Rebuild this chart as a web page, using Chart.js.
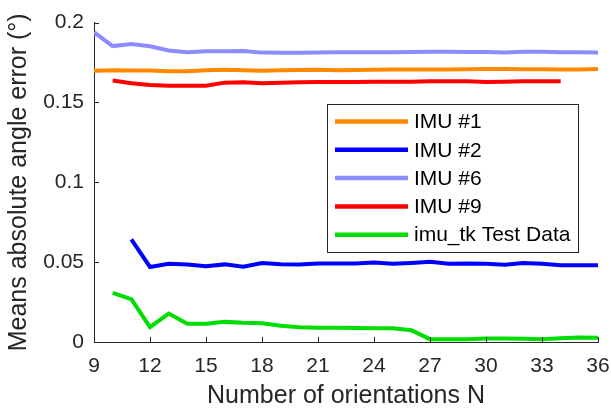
<!DOCTYPE html>
<html>
<head>
<meta charset="utf-8">
<script src="https://cdn.jsdelivr.net/npm/chart.js@4/dist/chart.umd.min.js"></script>
<style>
  html, body { margin: 0; padding: 0; background: #fff; }
  #wrap { width: 611px; height: 417px; }
</style>
</head>
<body>
<div id="wrap"><canvas id="c" width="611" height="417"></canvas></div>
<script>
// Number of orientations N
const nAll   = [9, 10, 11, 12, 13, 14, 15, 16, 17, 18, 19, 20, 21, 22, 23, 24, 25, 26, 27, 28, 29, 30, 31, 32, 33, 34, 35, 36];

// mean absolute angle error (deg), null where no value
const imu1 = [0.1698, 0.1702, 0.1700, 0.1700, 0.1695, 0.1696, 0.1701, 0.1704, 0.1702, 0.1698, 0.1702, 0.1703, 0.1704, 0.1701, 0.1703, 0.1704, 0.1706, 0.1707, 0.1706, 0.1707, 0.1708, 0.1709, 0.1710, 0.1708, 0.1708, 0.1707, 0.1707, 0.1710];
const imu2 = [null, null, 0.0642, 0.0470, 0.0490, 0.0486, 0.0474, 0.0486, 0.0472, 0.0494, 0.0487, 0.0485, 0.0492, 0.0492, 0.0492, 0.0498, 0.0490, 0.0495, 0.0502, 0.0490, 0.0492, 0.0490, 0.0484, 0.0494, 0.0490, 0.0481, 0.0480, 0.0481];
const imu6 = [0.1940, 0.1853, 0.1866, 0.1852, 0.1825, 0.1815, 0.1820, 0.1820, 0.1822, 0.1812, 0.1811, 0.1811, 0.1813, 0.1815, 0.1815, 0.1815, 0.1815, 0.1816, 0.1818, 0.1818, 0.1816, 0.1816, 0.1813, 0.1817, 0.1818, 0.1815, 0.1814, 0.1813];
const imu9 = [null, 0.1638, 0.1620, 0.1610, 0.1604, 0.1605, 0.1605, 0.1624, 0.1627, 0.1620, 0.1624, 0.1626, 0.1628, 0.1628, 0.1628, 0.1629, 0.1630, 0.1630, 0.1632, 0.1632, 0.1632, 0.1628, 0.1630, 0.1633, 0.1633, 0.1633, null, null];
const imuTk = [null, 0.0307, 0.0268, 0.0093, 0.0178, 0.0114, 0.0114, 0.0126, 0.0120, 0.0118, 0.0102, 0.0093, 0.0090, 0.0089, 0.0087, 0.0086, 0.0086, 0.0074, 0.0018, 0.0018, 0.0018, 0.0022, 0.0022, 0.0020, 0.0018, 0.0024, 0.0028, 0.0027];

const seriesNames  = ['IMU #1', 'IMU #2', 'IMU #6', 'IMU #9', 'imu_tk Test Data'];
const seriesValues = [imu1, imu2, imu6, imu9, imuTk];
const seriesColors = ['#FF8800', '#0000FF', '#8C8CFF', '#FF0000', '#00DD00'];

const xTicks = [9, 12, 15, 18, 21, 24, 27, 30, 33, 36];
const yTicks = [0, 0.05, 0.1, 0.15, 0.2];

const FONT = "'Liberation Sans', Arial, Helvetica, sans-serif";
const INK = '#262626';

// inward tick marks, MATLAB style
const innerTicks = {
    id: 'innerTicks',
    afterDraw(chart) {
        const { ctx, scales: { x, y } } = chart;
        ctx.save();
        ctx.strokeStyle = INK;
        ctx.lineWidth = 1;
        ctx.beginPath();
        xTicks.forEach(v => {
            const px = Math.round(x.getPixelForValue(v)) + 0.5;
            ctx.moveTo(px, y.bottom);
            ctx.lineTo(px, y.bottom - 5);
        });
        yTicks.forEach(v => {
            const py = Math.round(y.getPixelForValue(v)) + 0.5;
            ctx.moveTo(x.left, py);
            ctx.lineTo(x.left + 5, py);
        });
        ctx.stroke();
        ctx.restore();
    }
};

// legend box inside the plot area
const boxLegend = {
    id: 'boxLegend',
    afterDraw(chart) {
        const { ctx } = chart;
        const left = 327, top = 104, w = 251, h = 148;
        ctx.save();
        ctx.fillStyle = '#fff';
        ctx.fillRect(left, top, w, h);
        ctx.strokeStyle = '#262626';
        ctx.lineWidth = 1;
        ctx.strokeRect(left + 0.5, top + 0.5, w, h);
        ctx.font = '21px ' + FONT;
        ctx.textBaseline = 'middle';
        chart.data.datasets.forEach((ds, i) => {
            const cy = top + 17.5 + i * 28.3;
            ctx.strokeStyle = ds.borderColor;
            ctx.lineWidth = 4.5;
            ctx.beginPath();
            ctx.moveTo(left + 8, cy);
            ctx.lineTo(left + 81, cy);
            ctx.stroke();
            ctx.fillStyle = '#000';
            ctx.fillText(ds.label, left + 87, cy + 1);
        });
        ctx.restore();
    }
};

new Chart(document.getElementById('c'), {
    type: 'line',
    data: {
        datasets: seriesNames.map((name, i) => ({
            label: name,
            data: nAll.map((n, j) => ({ x: n, y: seriesValues[i][j] })),
            borderColor: seriesColors[i],
            backgroundColor: seriesColors[i],
            borderWidth: 4,
            pointRadius: 0,
            tension: 0,
            spanGaps: false,
        }))
    },
    options: {
        responsive: false,
        animation: false,
        layout: { padding: { left: 0, right: 13, top: 14, bottom: 0 } },
        plugins: {
            legend: { display: false },
            tooltip: { enabled: false },
        },
        scales: {
            x: {
                type: 'linear',
                min: 9,
                max: 36,
                afterFit: s => { s.height = 75; s.paddingRight = 0; },
                afterBuildTicks: s => { s.ticks = xTicks.map(v => ({ value: v })); },
                grid: { display: false, drawTicks: false, tickLength: 0 },
                border: { display: true, color: INK, width: 1 },
                ticks: { font: { family: FONT, size: 21 }, color: INK, padding: 12 },
                title: {
                    display: true,
                    text: 'Number of orientations N',
                    font: { family: FONT, size: 25 },
                    color: INK,
                    padding: { top: 0, bottom: 6 },
                },
            },
            y: {
                min: 0,
                max: 0.2,
                afterFit: s => { s.width = 94; },
                afterBuildTicks: s => { s.ticks = yTicks.map(v => ({ value: v })); },
                grid: { display: false, drawTicks: false, tickLength: 0 },
                border: { display: true, color: INK, width: 1 },
                ticks: {
                    font: { family: FONT, size: 21 },
                    color: INK,
                    padding: 10,
                    callback: v => String(v),
                },
                title: {
                    display: true,
                    text: 'Means absolute angle error (°)',
                    font: { family: FONT, size: 25 },
                    color: INK,
                    padding: { top: 4, bottom: 0 },
                },
            },
        },
    },
    plugins: [innerTicks, boxLegend],
});
</script>
</body>
</html>
